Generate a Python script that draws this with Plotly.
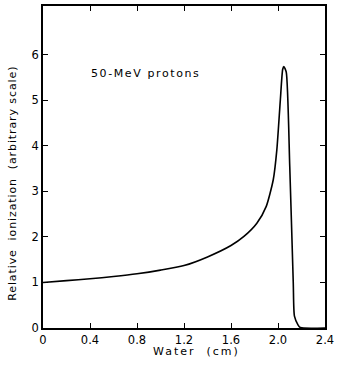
import plotly.graph_objects as go

# Bragg curve for 50-MeV protons
depth_cm = [0.0, 0.2, 0.4, 0.6, 0.8, 1.0, 1.2, 1.4, 1.6, 1.71, 1.82, 1.90, 1.96, 1.99,
            2.02, 2.04, 2.05, 2.07, 2.10, 2.13, 2.14, 2.17, 2.19, 2.4]
ionization = [1.0, 1.04, 1.08, 1.13, 1.19, 1.27, 1.37, 1.56, 1.81, 2.01, 2.30, 2.67, 3.26, 3.91,
              5.01, 5.68, 5.74, 5.62, 3.55, 0.99, 0.26, 0.07, 0.01, 0.0]

x_ticks = [0, 0.4, 0.8, 1.2, 1.6, 2.0, 2.4]
x_tick_labels = ["0", "0.4", "0.8", "1.2", "1.6", "2.0", "2.4"]
y_ticks = [0, 1, 2, 3, 4, 5, 6]
y_tick_labels = ["0", "1", "2", "3", "4", "5", "6"]

FONT = "DejaVu Sans, Verdana, sans-serif"


def spaced(text, px):
    return f'<span style="letter-spacing:{px}px">{text}</span>'


fig = go.Figure()
fig.add_trace(go.Scatter(
    x=depth_cm, y=ionization, mode="lines",
    line=dict(color="black", width=1.6, shape="spline", smoothing=0.6),
    hoverinfo="skip", showlegend=False,
))

axis_common = dict(
    showgrid=False, zeroline=False, showline=True, linecolor="black", linewidth=1.5,
    mirror="ticks", ticks="inside", ticklen=5, tickwidth=1.3, tickcolor="black",
    tickfont=dict(family=FONT, size=11.5, color="black"), automargin=False,
)

fig.update_layout(
    width=337, height=374,
    margin=dict(l=43, r=12, t=6, b=46),
    paper_bgcolor="white", plot_bgcolor="white",
    xaxis=dict(range=[0, 2.4], tickvals=x_ticks, ticktext=x_tick_labels, **axis_common),
    yaxis=dict(range=[0, 7.07], tickvals=y_ticks, ticktext=y_tick_labels, **axis_common),
    annotations=[
        dict(x=0.87, y=5.58, xref="x", yref="y", text=spaced("50-MeV protons", 1.6), showarrow=False,
             xanchor="center", yanchor="middle",
             font=dict(family=FONT, size=11, color="black")),
        dict(x=0.546, y=-0.072, xref="paper", yref="paper", text=spaced("Water  (cm)", 2),
             showarrow=False, xanchor="center", yanchor="middle",
             font=dict(family=FONT, size=11, color="black")),
        dict(x=-0.111, y=0.45, xref="paper", yref="paper",
             text=spaced("Relative  ionization  (arbitrary scale)", 0.9),
             textangle=-90, showarrow=False, xanchor="center", yanchor="middle",
             font=dict(family=FONT, size=11, color="black")),
    ],
)

fig.write_html("out.html", config={"displayModeBar": False},
               post_script="document.body.style.margin='0';document.body.style.overflow='hidden';")
